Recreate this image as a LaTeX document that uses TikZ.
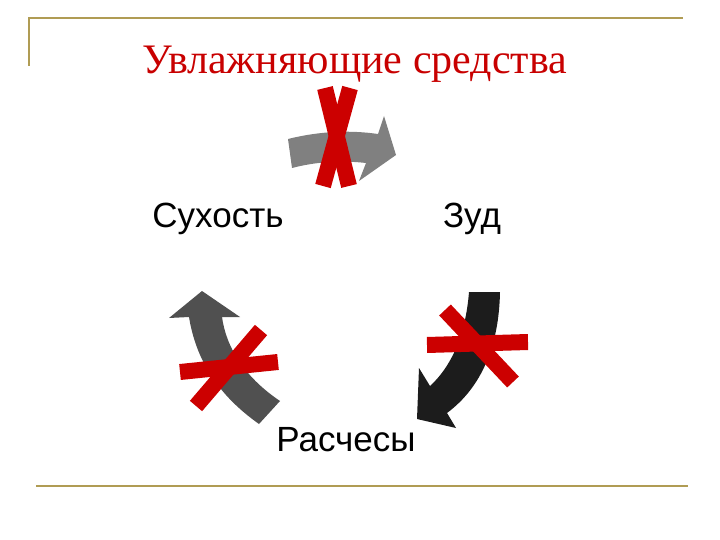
\documentclass[tikz,border=0pt]{standalone}
\usepackage{fontspec}
\setmainfont{Liberation Serif}
\newfontfamily\labelfont{Liberation Sans}
\definecolor{frameolive}{RGB}{176,156,84}
\definecolor{xred}{RGB}{204,0,0}
\definecolor{titlered}{RGB}{200,0,0}
\definecolor{arrowgray}{RGB}{128,128,128}
\definecolor{arrowdark}{RGB}{80,80,80}
\definecolor{arrowblack}{RGB}{28,28,28}
\tikzset{
  frameline/.style={draw=frameolive, line width=2.2pt},
  crossbar/.style={draw=xred, line width=16pt, line cap=butt},
  cyclelabel/.style={font=\labelfont\fontsize{35}{40}\selectfont, anchor=base, inner sep=0pt},
  titlestyle/.style={font=\fontsize{42}{48}\selectfont, text=titlered, anchor=base, inner sep=0pt}
}
\begin{document}
\begin{tikzpicture}[x=1pt, y=-1pt]
\useasboundingbox (0,0) rectangle (720,540);
% frame
\draw[frameline] (29,66) -- (29,18) -- (683,18);
\draw[frameline] (36,486) -- (688,486);
% title
\node[titlestyle] (title) at (355,74) {Увлажняющие средства};
% top arrow
\fill[arrowgray] (288,139) .. controls (320,131) and (350,130) .. (378,134) -- (384,116) -- (396,155) -- (359,181) -- (366,163) .. controls (340,160) and (315,162) .. (292,168) -- cycle;
% left arrow
\fill[arrowdark] (202,291) -- (240,317) -- (222,317) .. controls (226,346) and (243,376) .. (280,401) -- (259,424) .. controls (218,395) and (196,360) .. (189,317) -- (169,318) -- cycle;
% right arrow
\fill[arrowblack] (469,292) -- (500,292) .. controls (499,345) and (482,387) .. (447,413) -- (456,428) -- (417,419) -- (419,368) -- (430,386) .. controls (454,364) and (466,330) .. (469,292) -- cycle;
% red crosses
\draw[crossbar] (325,88) -- (349,186);
\draw[crossbar] (350,88) -- (323,186);
\draw[crossbar] (180,372) -- (278,362);
\draw[crossbar] (261,330) -- (196,406);
\draw[crossbar] (427,345) -- (528,342);
\draw[crossbar] (445,310) -- (513,382);
% labels
\node[cyclelabel] (dry) at (218,227) {Сухость};
\node[cyclelabel] (itch) at (472,227) {Зуд};
\node[cyclelabel] (scratch) at (346,451) {Расчесы};
\end{tikzpicture}
\end{document}
